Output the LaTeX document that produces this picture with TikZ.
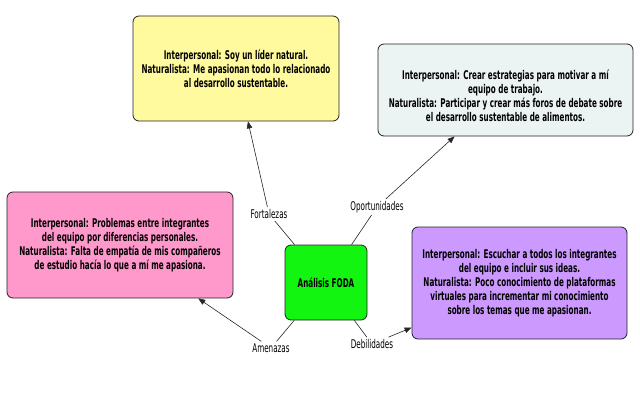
\documentclass[tikz,border=0pt]{standalone}
\usepackage{fontspec}
\setmainfont{DejaVu Sans}[FakeStretch=0.6]
\usepackage{xcolor}
\usepackage{tikz}
\usetikzlibrary{positioning, arrows.meta}

\definecolor{yelfill}{HTML}{FFFA9E}
\definecolor{opofill}{HTML}{ECF3F3}
\definecolor{pinkfill}{HTML}{FF99CC}
\definecolor{lilafill}{HTML}{CC99FF}
\definecolor{grnfill}{HTML}{11F511}
\definecolor{edge}{HTML}{222222}

\begin{document}
\begin{tikzpicture}[
    x=1pt, y=-1pt,
    every node/.style={font=\fontsize{12}{14}\selectfont},
    card/.style={draw=edge, rounded corners=6pt, fill=#1, line width=0.8pt, align=center, inner sep=3pt, font=\fontsize{12}{14}\selectfont\bfseries},
    lbl/.style={inner sep=2pt, fill=white},
    link/.style={draw=black!85, line width=0.6pt},
    arrow/.style={link, -{Triangle[length=7pt, width=5.5pt]}},
  ]
  \useasboundingbox (0,0) rectangle (640,412);

  % ---- centre ----
  \node[card=grnfill, minimum width=82pt, minimum height=75pt] (foda) at (326,282.5) {Análisis FODA};

  % ---- the four cards ----
  \node[card=yelfill, minimum width=206pt, minimum height=105pt] (fort) at (236,68.5)
    {Interpersonal: Soy un líder natural.\\Naturalista: Me apasionan todo lo relacionado\\al desarrollo sustentable.};
  \node[card=opofill, minimum width=255pt, minimum height=92pt] (opor) at (505.5,90)
    {\rule{0pt}{22pt}Interpersonal: Crear estrategias para motivar a mí\\equipo de trabajo.\\Naturalista: Participar y crear más foros de debate sobre\\el desarrollo sustentable de alimentos.};
  \node[card=pinkfill, minimum width=226pt, minimum height=106pt] (amen) at (120,245)
    {Interpersonal: Problemas entre integrantes\\del equipo por diferencias personales.\\Naturalista: Falta de empatía de mis compañeros\\de estudio hacía lo que a mí me apasiona.};
  \node[card=lilafill, minimum width=215pt, minimum height=112pt] (debil) at (519.5,283)
    {Interpersonal: Escuchar a todos los integrantes\\del equipo e incluir sus ideas.\\Naturalista: Poco conocimiento de plataformas\\virtuales para incrementar mi conocimiento\\sobre los temas que me apasionan.};

  % ---- link labels ----
  \node[lbl] (lfort) at (269,214) {Fortalezas};
  \node[lbl] (lopor) at (377,207) {Oportunidades};
  \node[lbl] (lamen) at (271,348) {Amenazas};
  \node[lbl] (ldebil) at (372,344) {Debilidades};

  % ---- links ----
  \draw[link] (foda) -- (lfort);
  \draw[arrow] (lfort) -- (fort);
  \draw[link] (foda) -- (lopor);
  \draw[arrow] (lopor) -- (opor);
  \draw[link] (foda) -- (lamen);
  \draw[arrow] (lamen) -- (amen);
  \draw[link] (foda) -- (ldebil);
  \draw[arrow] (ldebil) -- (debil);

\end{tikzpicture}
\end{document}
